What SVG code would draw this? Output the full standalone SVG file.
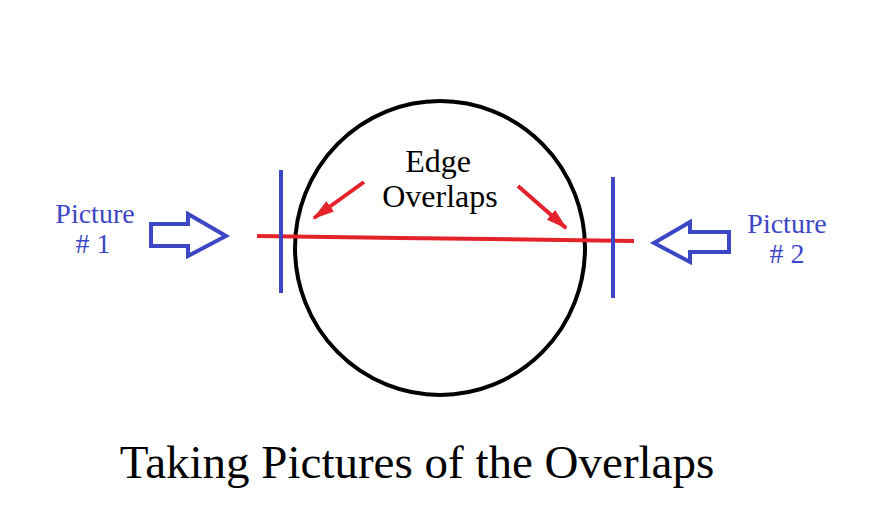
<svg xmlns="http://www.w3.org/2000/svg" width="873" height="526" viewBox="0 0 873 526">
  <style>
    .blue { stroke: #3c47c5; fill: none; stroke-width: 4; }
    .red { stroke: #e3222a; fill: none; stroke-width: 4; }
    .lbl { font-family: "Liberation Serif", "Times New Roman", serif; fill: #3c47c5; font-size: 28px; text-anchor: middle; }
    .blk { font-family: "Liberation Serif", "Times New Roman", serif; fill: #000; text-anchor: middle; }
  </style>
  <defs>
    <marker id="redHead" markerWidth="5.5" markerHeight="3.2" refX="5" refY="1.6" orient="auto" markerUnits="strokeWidth">
      <path d="M0,0 L5.5,1.6 L0,3.2 z" fill="#e3222a"/>
    </marker>
  </defs>
  <rect width="873" height="526" fill="#fff"/>

  <g id="object">
    <ellipse cx="440" cy="248" rx="145" ry="147" fill="none" stroke="#000" stroke-width="4"/>
  </g>

  <g id="edge-line">
    <polyline class="red" points="257,236 400,238 490,239 634,241"/>
  </g>

  <g id="frame-left">
    <line class="blue" x1="281" y1="170" x2="281" y2="293"/>
  </g>
  <g id="frame-right">
    <line class="blue" x1="613" y1="177" x2="613" y2="298"/>
  </g>

  <g id="picture-1">
    <text class="lbl" x="95" y="223">Picture</text>
    <text class="lbl" x="93" y="253"># 1</text>
    <path class="blue" d="M151,224 L188,224 L188,214 L226,236 L188,256 L188,246 L151,246 Z"/>
  </g>

  <g id="picture-2">
    <text class="lbl" x="787" y="233">Picture</text>
    <text class="lbl" x="787" y="263"># 2</text>
    <path class="blue" d="M729,232 L690,232 L690,222 L654,243 L690,262 L690,252 L729,252 Z"/>
  </g>

  <g id="edge-overlaps">
    <text class="blk" x="438" y="172" font-size="32">Edge</text>
    <text class="blk" x="440" y="207" font-size="32">Overlaps</text>
  </g>

  <g id="connectors">
    <line class="red" x1="364" y1="182" x2="314" y2="218" marker-end="url(#redHead)"/>
    <line class="red" x1="518" y1="186" x2="566" y2="228" marker-end="url(#redHead)"/>
  </g>

  <g id="title">
    <text class="blk" x="417" y="478" font-size="47">Taking Pictures of the Overlaps</text>
  </g>
</svg>
